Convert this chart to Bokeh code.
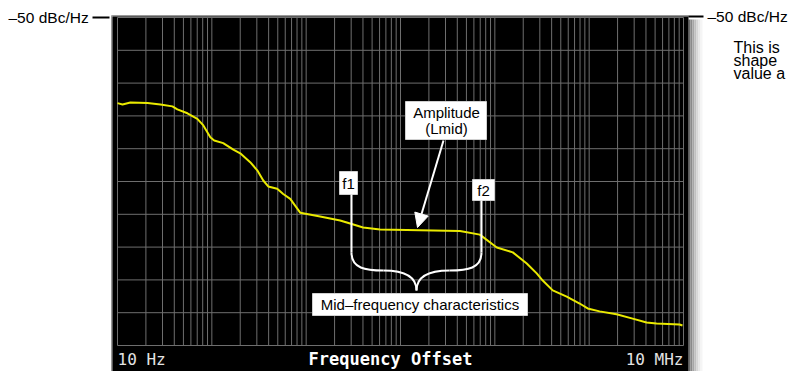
from bokeh.plotting import figure
from bokeh.models import Range1d, Arrow, NormalHead
from bokeh.core.properties import value
from bokeh.embed import file_html
from bokeh.resources import INLINE
import math

# ---------------- data ----------------
freq_hz = [10, 11.3, 13.7, 20.8, 28.5, 38.2, 43.1, 55.1, 70.2, 81.3, 96.4, 106,
           132, 169, 200, 255, 303, 351, 396, 493, 571, 678, 864, 1406, 2291,
           2924, 4012, 6067, 42650, 69340, 104900, 155000, 218000, 278000,
           322000, 411000, 578000, 793000, 964000, 1.29e6, 1.95e6, 2.89e6,
           4.06e6, 5.18e6, 9.08e6, 9.75e6]
noise_dbc = [-76.1, -76.5, -75.9, -76.1, -76.5, -77.1, -78.0, -79.2, -80.9,
             -82.9, -86.5, -87.5, -88.3, -90.3, -91.4, -94.1, -96.6, -99.7,
             -101.5, -102.2, -103.8, -105.3, -109.5, -110.7, -111.9, -112.8,
             -114.0, -114.6, -115.1, -116.2, -120.1, -121.6, -125.0, -128.0,
             -130.2, -133.2, -135.1, -137.2, -138.7, -139.6, -140.5, -141.8,
             -143.0, -143.3, -143.6, -143.9]

decades = [10, 100, 1e3, 1e4, 1e5, 1e6]
grid_freqs = [d * m for d in decades for m in range(1, 10)] + [1e7]
grid_levels = list(range(-50, -151, -10))

x_start_label = "10 Hz"
x_end_label = "10 MHz"
x_title = "Frequency Offset"
ref_label = "\u201350 dBc/Hz"
f1_label = "f1"
f2_label = "f2"
amp_label = ["Amplitude", "(Lmid)"]
mid_label = "Mid\u2013frequency characteristics"
side_text = ["This is", "shape", "value a"]

# ---------------- page-pixel -> data helpers ----------------
F0, F1 = grid_freqs[0], grid_freqs[-1]
L0, L1 = grid_levels[0], grid_levels[-1]
GX0, GX1 = 117.0, 683.0      # grid left/right (page px)
GY0, GY1 = 17.0, 345.0       # grid top/bottom (page px)
dec_px = (GX1 - GX0) / (math.log10(F1) - math.log10(F0))
db_px = (GY1 - GY0) / (L0 - L1)


def fx(px):
    return 10 ** (math.log10(F0) + (px - GX0) / dec_px)


def fy(py):
    return L0 - (py - GY0) / db_px


W, H = 792, 371
p = figure(width=W, height=H, x_axis_type="log",
           x_range=Range1d(fx(0), fx(W)), y_range=Range1d(fy(H), fy(0)),
           output_backend="svg", toolbar_location=None,
           x_axis_location=None, y_axis_location=None, min_border=0,
           outline_line_color=None, background_fill_color="white",
           border_fill_color="white")
p.grid.grid_line_color = None

# black instrument screen + shadow
shadow = ["#6a6a6a", "#8a8a8a", "#a6a6a6", "#c0c0c0", "#d6d6d6", "#e8e8e8", "#f5f5f5"]
for i, c in enumerate(shadow):
    p.quad(left=fx(688 + 2 * i), right=fx(690 + 2 * i), top=fy(19), bottom=fy(380),
           fill_color=c, line_color=None)
p.quad(left=fx(111), right=fx(688), top=fy(15), bottom=fy(380),
       fill_color="black", line_color=None)
p.segment(x0=[fx(111.5), fx(111)], y0=[fy(15), fy(15.5)],
          x1=[fx(111.5), fx(688)], y1=[fy(380), fy(15.5)],
          line_color="#b4b4b4", line_width=1)

# grid
n = len(grid_freqs)
p.segment(x0=grid_freqs, y0=[L1] * n, x1=grid_freqs, y1=[L0] * n,
          line_color="#6e6e6e", line_width=1)
m = len(grid_levels)
p.segment(x0=[F0] * m, y0=grid_levels, x1=[F1] * m, y1=grid_levels,
          line_color="#6e6e6e", line_width=1)

# trace
p.line(freq_hz, noise_dbc, line_color="#eaea00", line_width=2)

# bottom screen labels
mono = value("DejaVu Sans Mono")
p.text(x=[fx(117)], y=[fy(368)], text=[x_start_label], text_font=mono,
       text_font_size="16px", text_color="#e4e4e4", text_align="left",
       text_baseline="bottom")
p.text(x=[fx(683)], y=[fy(368)], text=[x_end_label], text_font=mono,
       text_font_size="16px", text_color="#e4e4e4", text_align="right",
       text_baseline="bottom")
p.text(x=[fx(390)], y=[fy(368)], text=[x_title], text_font=mono,
       text_font_size="17px", text_font_style="bold", text_color="white",
       text_align="center", text_baseline="bottom")

# reference level labels
sans = value("Liberation Sans")
p.segment(x0=[fx(92), fx(688)], y0=[fy(17), fy(16)], x1=[fx(109), fx(703)],
          y1=[fy(17), fy(16)], line_color="black", line_width=2)
p.text(x=[fx(8)], y=[fy(17)], text=[ref_label], text_font=sans,
       text_font_size="15.5px", text_color="black", text_align="left",
       text_baseline="middle")
p.text(x=[fx(707)], y=[fy(16)], text=[ref_label], text_font=sans,
       text_font_size="15.5px", text_color="black", text_align="left",
       text_baseline="middle")
p.text(x=[fx(733)] * 3, y=[fy(46.5), fy(59.5), fy(72.5)], text=side_text,
       text_font=sans, text_font_size="16px", text_color="black",
       text_align="left", text_baseline="middle")

# callout boxes
p.quad(left=[fx(405), fx(339), fx(472), fx(312)],
       right=[fx(486), fx(357), fx(494), fx(527)],
       top=[fy(101), fy(171), fy(179), fy(293)],
       bottom=[fy(139), fy(194), fy(200), fy(315)],
       fill_color="white", line_color="#d0d0d0", line_width=1)
p.text(x=[fx(446), fx(446)], y=[fy(112), fy(128)], text=amp_label,
       text_font=sans, text_font_size="15px", text_color="black",
       text_align="center", text_baseline="middle")
p.text(x=[fx(348), fx(483)], y=[fy(183), fy(190)], text=[f1_label, f2_label],
       text_font=sans, text_font_size="15px", text_color="black",
       text_align="center", text_baseline="middle")
p.text(x=[fx(419.5)], y=[fy(304)], text=[mid_label],
       text_font=sans, text_font_size="15px", text_color="black",
       text_align="center", text_baseline="middle")

# f1 / f2 leaders and brace
p.segment(x0=[fx(351), fx(481)], y0=[fy(194), fy(200)],
          x1=[fx(351), fx(481)], y1=[fy(252), fy(252)],
          line_color="white", line_width=2)
p.bezier(x0=[fx(351), fx(383), fx(481), fx(449)],
         y0=[fy(252), fy(270), fy(252), fy(270)],
         x1=[fx(383), fx(416), fx(449), fx(416)],
         y1=[fy(270), fy(290), fy(270), fy(290)],
         cx0=[fx(351), fx(405), fx(481), fx(427)],
         cy0=[fy(268), fy(270), fy(268), fy(270)],
         cx1=[fx(365), fx(416), fx(467), fx(416)],
         cy1=[fy(270), fy(276), fy(270), fy(276)],
         line_color="white", line_width=2)

# amplitude arrow
p.add_layout(Arrow(end=NormalHead(size=14, fill_color="white", line_color="white"),
                   x_start=fx(443), y_start=fy(140), x_end=fx(417), y_end=fy(227),
                   line_color="white", line_width=2))

open("out.html", "w").write(file_html(p, INLINE))
